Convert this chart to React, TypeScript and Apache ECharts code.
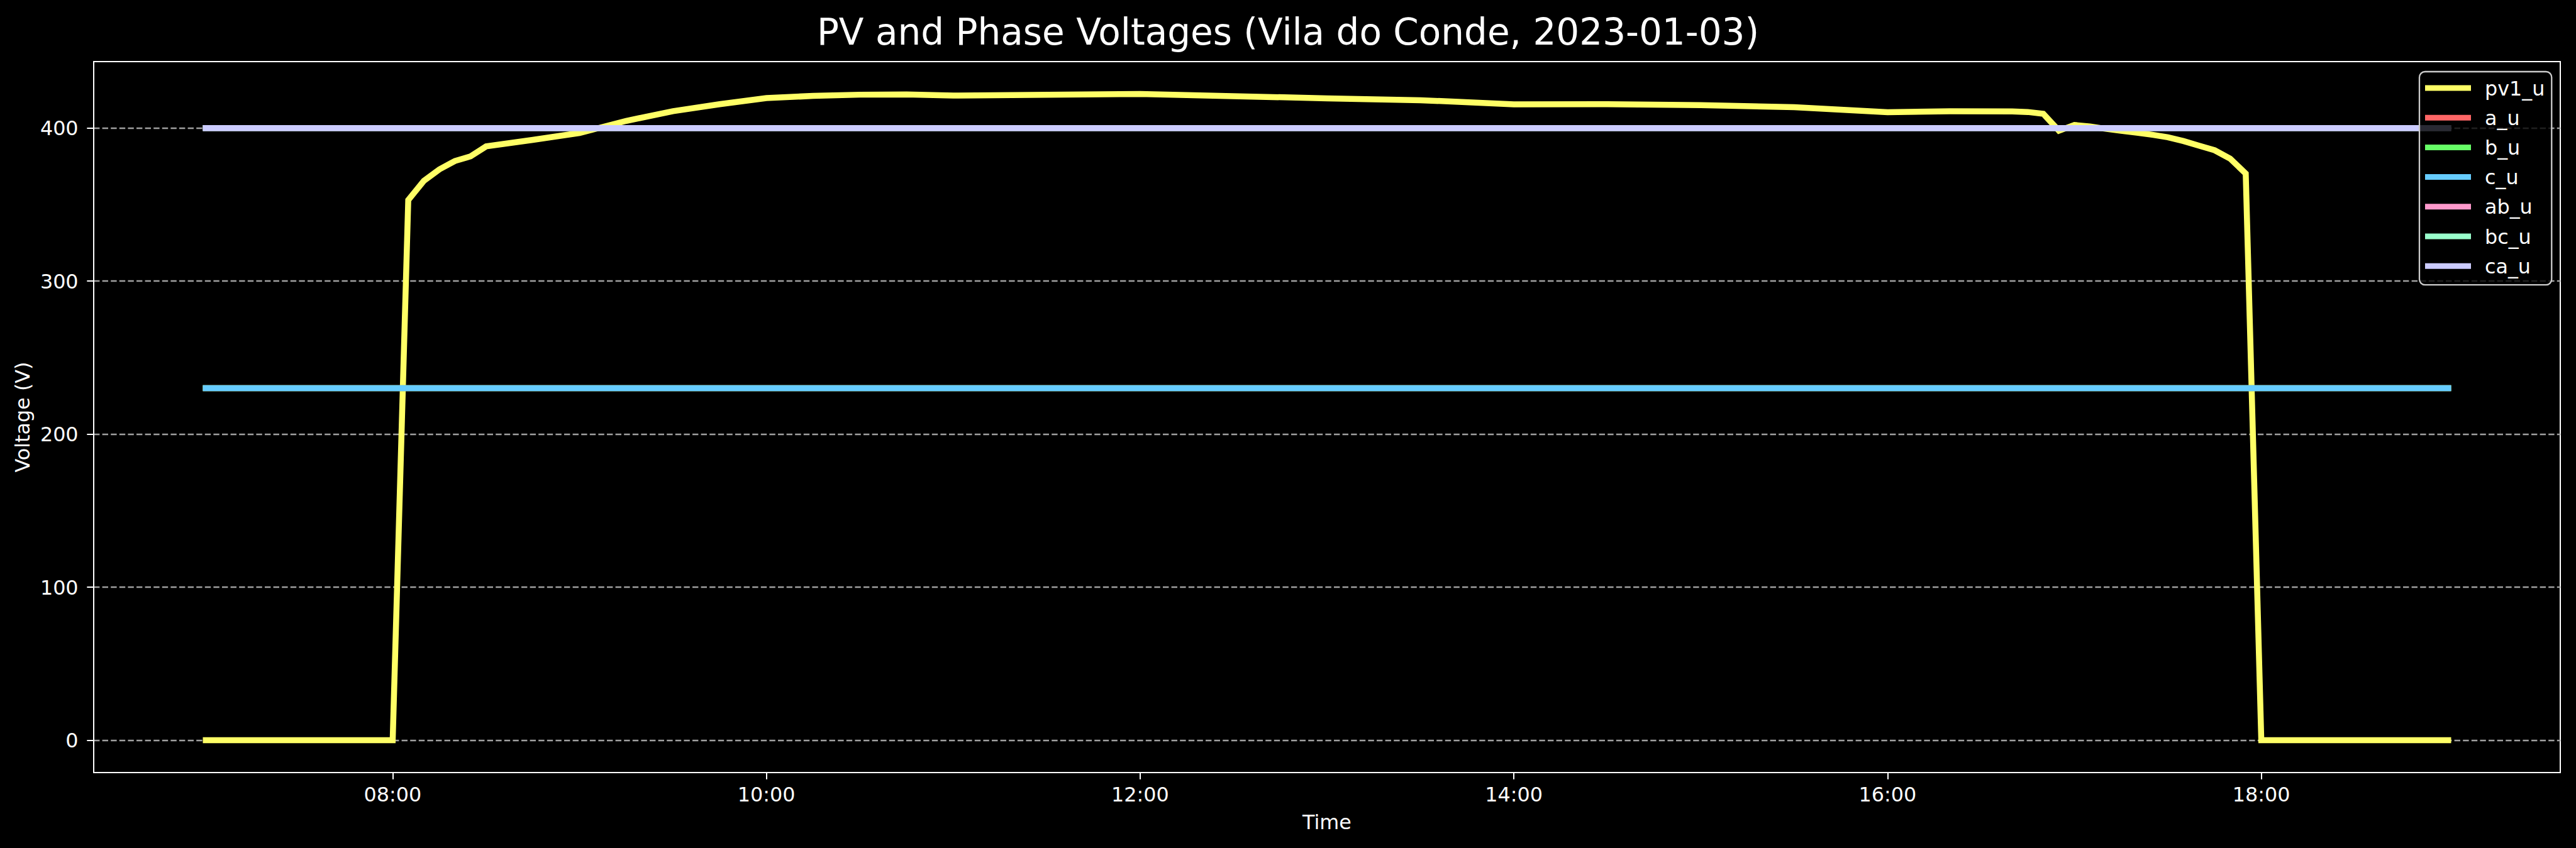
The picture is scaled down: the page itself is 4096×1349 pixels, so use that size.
import React, { useEffect, useRef } from "react";
import * as echarts from "echarts";

// ---- data ----
const pvTimes = [
  "07:00", "07:30", "08:00", "08:05", "08:10", "08:15", "08:20", "08:25", "08:30", "08:45",
  "09:00", "09:15", "09:30", "09:45", "10:00", "10:15", "10:30", "10:45", "11:00", "12:00",
  "13:00", "13:30", "14:00", "14:30", "15:00", "15:30", "16:00", "16:20", "16:40", "16:45",
  "16:50", "16:55", "17:00", "17:05", "17:10", "17:15", "17:20", "17:25", "17:30", "17:35",
  "17:40", "17:45", "17:50", "17:55", "18:00", "18:30", "19:00",
];
const pv1U = [
  0, 0, 0, 353, 365.5, 373, 378.5, 381.5, 388, 392.3,
  396.8, 404.7, 411, 415.6, 419.6, 421, 421.8, 422, 421.2, 422.3,
  419.4, 418.2, 415.5, 415.6, 415, 413.6, 410.4, 411, 410.9, 410.5,
  409.3, 398.3, 402, 401, 399.5, 398.2, 397, 395.6, 394, 391.5,
  388.5, 385.5, 380, 370.3, 0, 0, 0,
];

const phaseTimes = [
  "07:00", "08:00", "09:00", "10:00", "11:00", "12:00", "13:00",
  "14:00", "15:00", "16:00", "17:00", "18:00", "19:00",
];
const aU = [230, 230, 230, 230, 230, 230, 230, 230, 230, 230, 230, 230, 230];
const bU = [230, 230, 230, 230, 230, 230, 230, 230, 230, 230, 230, 230, 230];
const cU = [230, 230, 230, 230, 230, 230, 230, 230, 230, 230, 230, 230, 230];
const abU = [400, 400, 400, 400, 400, 400, 400, 400, 400, 400, 400, 400, 400];
const bcU = [400, 400, 400, 400, 400, 400, 400, 400, 400, 400, 400, 400, 400];
const caU = [400, 400, 400, 400, 400, 400, 400, 400, 400, 400, 400, 400, 400];

const seriesNames = ["pv1_u", "a_u", "b_u", "c_u", "ab_u", "bc_u", "ca_u"];
const seriesColors = ["#ffff66", "#ff6666", "#66ff66", "#66ccff", "#ff99cc", "#99ffcc", "#ccccff"];

const xTickLabels = ["08:00", "10:00", "12:00", "14:00", "16:00", "18:00"];
const yTickValues = [0, 100, 200, 300, 400];

const titleText = "PV and Phase Voltages (Vila do Conde, 2023-01-03)";

// ---- helpers ----
const toMin = (t: string) => {
  const [h, m] = t.split(":").map(Number);
  return h * 60 + m;
};
const fmt = (v: number) => {
  const h = Math.floor(v / 60);
  const m = Math.round(v - h * 60);
  return String(h).padStart(2, "0") + ":" + String(m).padStart(2, "0");
};
const pairs = (times: string[], vals: number[]) => times.map((t, i) => [toMin(t), vals[i]]);

const FONT = "DejaVu Sans";

export default function App() {
  const ref = useRef<HTMLDivElement>(null);
  useEffect(() => {
    document.body.style.margin = "0";
    document.body.style.background = "#000";
    const chart = echarts.init(ref.current!, null, { renderer: "svg" });
    const allValues = [pv1U, aU, bU, cU, abU, bcU, caU];
    const allTimes = [pvTimes, phaseTimes, phaseTimes, phaseTimes, phaseTimes, phaseTimes, phaseTimes];
    const xMin = toMin("07:00") - 0.05 * (toMin("19:00") - toMin("07:00"));
    const xMax = toMin("19:00") + 0.05 * (toMin("19:00") - toMin("07:00"));
    const yMax = 422.3;
    const option: any = {
      animation: false,
      backgroundColor: "#000000",
      color: seriesColors,
      title: {
        text: titleText,
        left: "center",
        top: 17,
        textStyle: { color: "#ffffff", fontFamily: FONT, fontSize: 58, fontWeight: "normal", lineHeight: 58 },
      },
      grid: {
        left: 149,
        right: 25,
        top: 98,
        bottom: 120,
        show: true,
        borderColor: "#ffffff",
        borderWidth: 2,
        backgroundColor: "transparent",
      },
      legend: {
        orient: "vertical",
        left: 3847,
        top: 114,
        icon: "rect",
        itemWidth: 73,
        itemHeight: 9,
        itemGap: 15.2,
        padding: [10, 11, 14, 9],
        backgroundColor: "rgba(0,0,0,0.8)",
        borderColor: "#cccccc",
        borderWidth: 2.3,
        borderRadius: 9,
        data: seriesNames,
        textStyle: {
          color: "#ffffff",
          fontFamily: FONT,
          fontSize: 31.8,
          lineHeight: 32,
          padding: [0, 0, 0, 17],
        },
      },
      xAxis: {
        type: "value",
        min: xMin,
        max: xMax,
        name: "Time",
        nameLocation: "middle",
        nameGap: 62,
        nameTextStyle: { color: "#ffffff", fontFamily: FONT, fontSize: 31.8 },
        axisLine: { show: true, onZero: false, lineStyle: { color: "#ffffff", width: 2 } },
        axisTick: {
          show: true,
          length: 10.7,
          lineStyle: { color: "#ffffff", width: 2 },
          customValues: xTickLabels.map(toMin),
        },
        axisLabel: {
          color: "#ffffff",
          fontFamily: FONT,
          fontSize: 31.8,
          margin: 18,
          customValues: xTickLabels.map(toMin),
          formatter: (v: number) => fmt(v),
        },
        splitLine: { show: false },
      },
      yAxis: {
        type: "value",
        min: -0.05 * yMax,
        max: yMax * 1.05,
        name: "Voltage (V)",
        nameLocation: "middle",
        nameGap: 98,
        nameTextStyle: { color: "#ffffff", fontFamily: FONT, fontSize: 31.8, lineHeight: 32 },
        axisLine: { show: true, onZero: false, lineStyle: { color: "#ffffff", width: 2 } },
        axisTick: {
          show: true,
          length: 10.7,
          lineStyle: { color: "#ffffff", width: 2 },
          customValues: yTickValues,
        },
        axisLabel: {
          color: "#ffffff",
          fontFamily: FONT,
          fontSize: 31.8,
          margin: 24.4,
          customValues: yTickValues,
          formatter: (v: number) => String(v),
        },
        splitLine: {
          show: true,
          lineStyle: { color: "#a0a0a0", width: 2.3, type: [9.4, 4.2] },
        },
      },
      series: seriesNames.map((name, i) => ({
        name,
        type: "line",
        data: pairs(allTimes[i], allValues[i]),
        showSymbol: false,
        symbol: "none",
        lineStyle: { width: 9.5, color: seriesColors[i], cap: "square", join: "miter" },
        itemStyle: { color: seriesColors[i] },
        emphasis: { disabled: true },
      })),
    };
    chart.setOption(option);
    return () => chart.dispose();
  }, []);
  return (
    <div
      ref={ref}
      style={{ position: "absolute", left: 0, top: 0, width: 4096, height: 1349, background: "#000" }}
    />
  );
}
